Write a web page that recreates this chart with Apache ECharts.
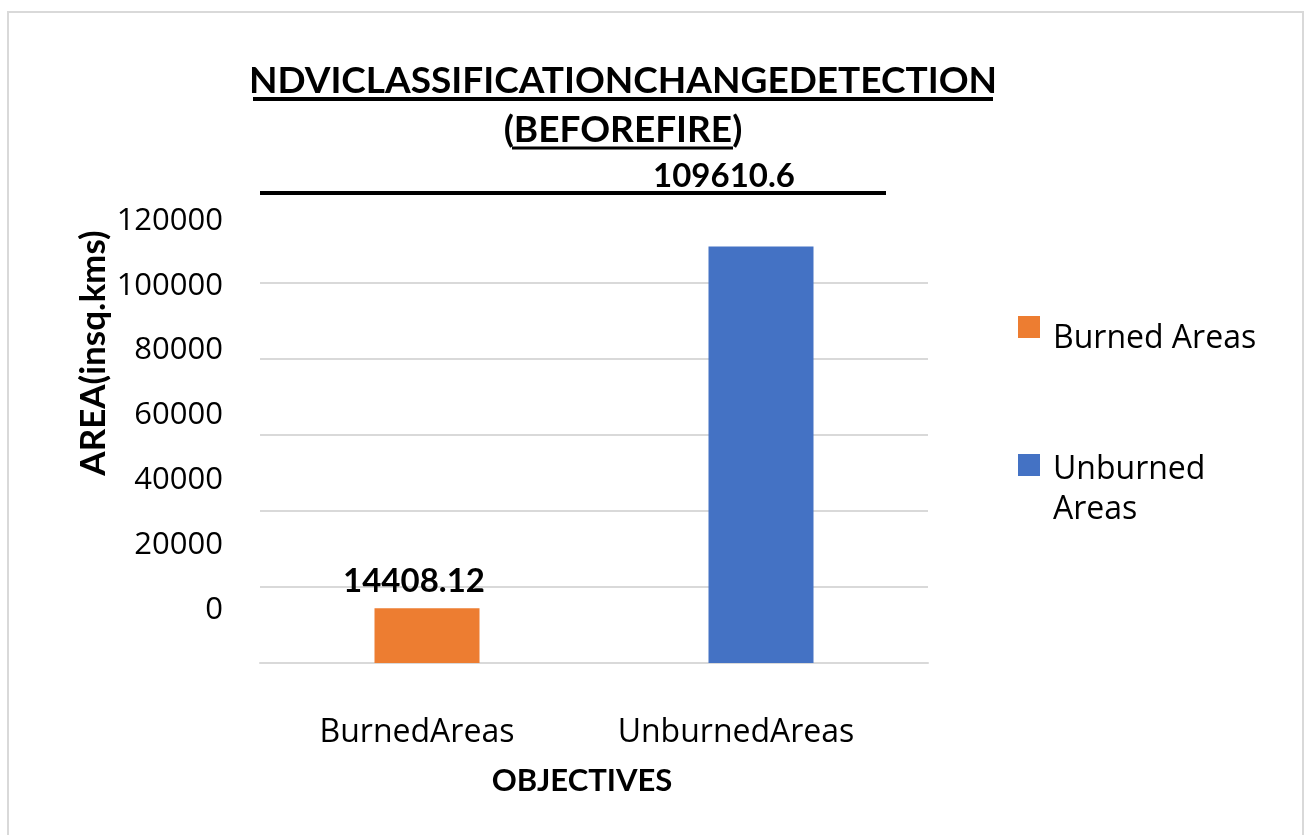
<!DOCTYPE html>
<html>
<head>
<meta charset="utf-8">
<script src="https://cdn.jsdelivr.net/npm/echarts@6/dist/echarts.min.js"></script>
<style>
  html, body { margin: 0; padding: 0; background: #fff; }
  #chart { width: 1305px; height: 835px; }
</style>
</head>
<body>
<div id="chart"></div>
<script>
// ---- data ----
const categories = ['BurnedAreas', 'UnburnedAreas'];
const seriesNames = ['Burned Areas', 'Unburned Areas'];
const burnedValues = [14408.12, '-'];
const unburnedValues = ['-', 109610.6];
const yTicks = [0, 20000, 40000, 60000, 80000, 100000, 120000];
const titleLines = ['NDVICLASSIFICATIONCHANGEDETECTION', '(BEFOREFIRE)'];
const yAxisTitle = 'AREA(insq.kms)';
const xAxisTitle = 'OBJECTIVES';

const FONT = '"Open Sans", Lato, sans-serif';
const BOLD_FONT = 'Lato, "Open Sans", sans-serif';
const yMin = yTicks[0], yMax = yTicks[yTicks.length - 1], yStep = yTicks[1] - yTicks[0];

const chart = echarts.init(document.getElementById('chart'), null, { renderer: 'canvas' });

const titleStyle = { fontFamily: BOLD_FONT, fontWeight: 'bold', fontSize: 37, lineHeight: 37, color: '#000' };
const catPad = [[0, 20, 0, 0], [0, 50, 0, 0]];

const option = {
  backgroundColor: '#ffffff',
  animation: false,
  title: [
    { text: titleLines[0], left: 623, top: 63, padding: 0, textAlign: 'center', textVerticalAlign: 'top', textStyle: titleStyle },
    { text: titleLines[1], left: 623, top: 112, padding: 0, textAlign: 'center', textVerticalAlign: 'top', textStyle: titleStyle }
  ],
  legend: {
    orient: 'vertical',
    left: 1013,
    top: 299,
    itemGap: 65,
    itemWidth: 22,
    itemHeight: 22,
    icon: 'rect',
    formatter: function (name) {
      return name === seriesNames[1]
        ? '{g2| }\n{t2|Unburned}\n{t2|Areas}'
        : '{g1| }\n{t1|' + name + '}';
    },
    textStyle: {
      fontFamily: FONT, fontSize: 32, color: '#000',
      rich: {
        g1: { lineHeight: 24, fontSize: 10 },
        g2: { lineHeight: 50, fontSize: 10 },
        t1: { fontFamily: FONT, fontSize: 32, lineHeight: 36, color: '#000', padding: [0, 0, 0, 8] },
        t2: { fontFamily: FONT, fontSize: 32, lineHeight: 40, color: '#000', padding: [0, 0, 0, 8] }
      }
    },
    data: seriesNames
  },
  grid: [
    { left: 260, right: 377, top: 207, bottom: 172, containLabel: false },
    { left: 260, right: 377, top: 221, bottom: 225, containLabel: false }
  ],
  xAxis: [
    {
      type: 'category',
      gridIndex: 0,
      data: categories,
      axisLine: { show: true, lineStyle: { color: '#d9d9d9', width: 2 } },
      axisTick: { show: false },
      axisLabel: {
        interval: 0,
        fontFamily: FONT, fontSize: 32, color: '#000', margin: 54,
        formatter: function (v, i) { return '{c' + i + '|' + v + '}'; },
        rich: {
          c0: { fontFamily: FONT, fontSize: 32, color: '#000', padding: catPad[0] },
          c1: { fontFamily: FONT, fontSize: 32, color: '#000', padding: catPad[1] }
        }
      },
      name: xAxisTitle,
      nameLocation: 'middle',
      nameGap: 102,
      nameTextStyle: { fontFamily: BOLD_FONT, fontWeight: 'bold', fontSize: 31, color: '#000', padding: [0, 24, 0, 0] }
    },
    {
      type: 'category',
      gridIndex: 1,
      data: categories,
      show: false
    }
  ],
  yAxis: [
    {
      type: 'value',
      gridIndex: 0,
      min: yMin, max: yMax, interval: yStep,
      axisLabel: { show: false },
      axisLine: { show: false },
      axisTick: { show: false },
      splitLine: { show: true, showMaxLine: false, lineStyle: { color: '#d9d9d9', width: 2 } }
    },
    {
      type: 'value',
      gridIndex: 1,
      min: yMin, max: yMax, interval: yStep,
      axisLabel: {
        show: true, fontFamily: FONT, fontSize: 31, color: '#000', margin: 37,
        formatter: function (v) { return String(v); }
      },
      axisLine: { show: false },
      axisTick: { show: false },
      splitLine: { show: false }
    }
  ],
  series: [
    {
      name: seriesNames[0],
      type: 'bar',
      stack: 'total',
      xAxisIndex: 0, yAxisIndex: 0,
      barWidth: 105,
      itemStyle: { color: '#ED7D31' },
      label: {
        show: true, position: 'top', distance: 10, offset: [-13, 0],
        fontFamily: BOLD_FONT, fontWeight: 'bold', fontSize: 33, color: '#000'
      },
      data: burnedValues
    },
    {
      name: seriesNames[1],
      type: 'bar',
      stack: 'total',
      xAxisIndex: 0, yAxisIndex: 0,
      barWidth: 105,
      itemStyle: { color: '#4472C4' },
      label: {
        show: true, position: 'top', distance: 54, offset: [-37, 0],
        fontFamily: BOLD_FONT, fontWeight: 'bold', fontSize: 33, color: '#000'
      },
      data: unburnedValues
    }
  ],
  graphic: [
    { type: 'rect', silent: true, z: -1, shape: { x: 8, y: 12, width: 1295, height: 830 },
      style: { fill: 'none', stroke: '#d9d9d9', lineWidth: 2 } },
    { type: 'line', silent: true, shape: { x1: 253, y1: 99, x2: 993, y2: 99 }, style: { stroke: '#000', lineWidth: 4 } },
    { type: 'line', silent: true, shape: { x1: 512, y1: 148, x2: 733, y2: 148 }, style: { stroke: '#000', lineWidth: 3 } },
    { type: 'line', silent: true, shape: { x1: 260, y1: 193, x2: 886, y2: 193 }, style: { stroke: '#000', lineWidth: 4 } },
    { type: 'text', silent: true, x: 94, y: 353, rotation: Math.PI / 2,
      style: { text: yAxisTitle, fontFamily: BOLD_FONT, fontWeight: 'bold', fontSize: 35, fill: '#000',
               align: 'center', verticalAlign: 'middle' } }
  ]
};

chart.setOption(option);
</script>
</body>
</html>
